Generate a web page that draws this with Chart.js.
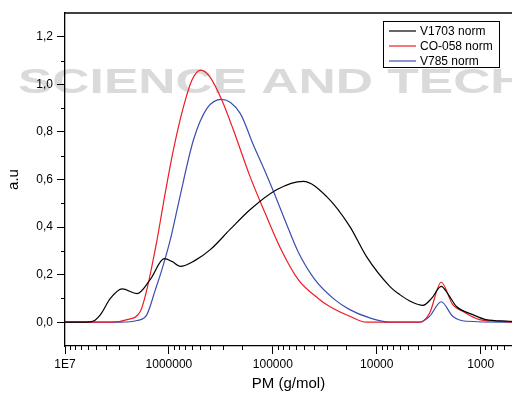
<!DOCTYPE html>
<html>
<head>
<meta charset="utf-8">
<script src="https://cdn.jsdelivr.net/npm/chart.js@4.4.1/dist/chart.umd.min.js"></script>
<style>
  html, body { margin: 0; padding: 0; background: #fff; }
  #wrap { width: 512px; height: 396px; }
</style>
</head>
<body>
<div id="wrap"><canvas id="gpcChart" width="512" height="396"></canvas></div>
<script>
// GPC curves, molar mass (g/mol) vs normalised signal
const seriesNames = ['V1703 norm', 'CO-058 norm', 'V785 norm'];
const seriesColors = ['#000000', '#ee1c24', '#3a4db0'];

const v1703M = [1e7, 6.35e6, 5.32e6, 4.56e6, 3.66e6, 2.82e6, 2.03e6, 1.51e6, 1.11e6, 9.3e5, 7.8e5, 5.6e5, 4.0e5, 2.58e5, 1.66e5, 9.2e4, 5.1e4, 3.05e4, 1.82e4, 1.26e4, 7.5e3, 6.0e3, 4.6e3, 3.6e3, 2.97e3, 2.4e3, 2.04e3, 1.72e3, 1.19e3, 890, 530, 500];
const v1703Y = [0, 0, 0.005, 0.032, 0.10, 0.14, 0.12, 0.18, 0.267, 0.255, 0.235, 0.26, 0.305, 0.39, 0.473, 0.557, 0.592, 0.529, 0.403, 0.277, 0.151, 0.116, 0.085, 0.071, 0.10, 0.151, 0.115, 0.067, 0.032, 0.011, 0.004, 0.003];

const co058M = [1e7, 3.66e6, 2.53e6, 1.88e6, 1.63e6, 1.46e6, 1.30e6, 1.13e6, 9.1e5, 7.24e5, 5.97e5, 4.93e5, 4.02e5, 3.1e5, 2.4e5, 1.66e5, 1.19e5, 8.22e4, 5.7e4, 3.66e4, 2.84e4, 1.82e4, 1.26e4, 3.87e3, 3.1e3, 2.4e3, 1.86e3, 1.49e3, 1.03e3, 660, 500];
const co058Y = [0, 0, 0.011, 0.046, 0.137, 0.235, 0.347, 0.50, 0.72, 0.906, 1.02, 1.06, 1.03, 0.934, 0.809, 0.613, 0.46, 0.30, 0.179, 0.10, 0.066, 0.025, 0.0, 0.0, 0.039, 0.168, 0.074, 0.046, 0.011, 0.004, 0];

const v785M = [1e7, 2.93e6, 2.03e6, 1.63e6, 1.35e6, 1.17e6, 9.7e5, 8.09e5, 5.8e5, 4.29e5, 3.1e5, 2.07e5, 1.54e5, 1.19e5, 9.55e4, 7.66e4, 5.7e4, 3.94e4, 2.54e4, 1.82e4, 1.17e4, 7.5e3, 3.87e3, 3.1e3, 2.4e3, 1.86e3, 1.38e3, 500];
const v785Y = [0, 0, 0.007, 0.032, 0.137, 0.22, 0.347, 0.50, 0.767, 0.90, 0.937, 0.879, 0.745, 0.635, 0.535, 0.43, 0.295, 0.179, 0.095, 0.053, 0.018, 0, 0, 0.025, 0.086, 0.025, 0.004, 0];

const xMajorTicks = [1e7, 1e6, 1e5, 1e4, 1e3];
const yMajorTicks = [0, 0.2, 0.4, 0.6, 0.8, 1.0, 1.2];
const yMinorTicks = [0.1, 0.3, 0.5, 0.7, 0.9, 1.1];

const FONT = '"Liberation Sans", Arial, sans-serif';

function pairs(xs, ys) {
    return xs.map((x, i) => ({x: x, y: ys[i]}));
}

const allSeries = [[v1703M, v1703Y], [co058M, co058Y], [v785M, v785Y]];

// faint watermark behind everything
const watermark = {
    id: 'watermark',
    beforeDraw(chart) {
        const c = chart.ctx;
        c.save();
        c.fillStyle = '#dadada';
        c.font = 'bold 35px ' + FONT;
        c.textBaseline = 'alphabetic';
        const w = c.measureText('SCIENCE AND').width;
        const sx = 355 / w;
        c.translate(18, 93);
        c.scale(sx, 1);
        c.fillText('SCIENCE AND TECHNOLOGY', 0, 0);
        c.restore();
    }
};

// minor ticks, top frame line and boxed legend
const extras = {
    id: 'extras',
    afterDraw(chart) {
        const c = chart.ctx;
        const area = chart.chartArea;
        const xs = chart.scales.x;
        const ys = chart.scales.y;
        c.save();
        c.strokeStyle = '#000';
        c.lineWidth = 1.3;
        c.beginPath();
        c.moveTo(area.left, area.top);
        c.lineTo(area.right, area.top);
        c.stroke();

        c.lineWidth = 1;
        c.beginPath();
        for (let d = 100; d < 1e7; d *= 10) {
            for (let k = 2; k <= 9; k++) {
                const v = d * k;
                if (v < xs.min || v > xs.max) continue;
                const px = Math.round(xs.getPixelForValue(v)) + 0.5;
                c.moveTo(px, area.bottom);
                c.lineTo(px, area.bottom + 4);
            }
        }
        yMinorTicks.forEach(v => {
            const py = Math.round(ys.getPixelForValue(v)) + 0.5;
            c.moveTo(area.left - 4, py);
            c.lineTo(area.left, py);
        });
        c.stroke();

        // legend
        const bx = 383.5, by = 21.5, bw = 116, bh = 46;
        c.fillStyle = '#fff';
        c.fillRect(bx, by, bw, bh);
        c.strokeStyle = '#000';
        c.lineWidth = 1;
        c.strokeRect(bx, by, bw, bh);
        c.font = '12px ' + FONT;
        c.textBaseline = 'middle';
        chart.data.datasets.forEach((ds, i) => {
            const yy = 31 + i * 15;
            c.strokeStyle = ds.borderColor;
            c.lineWidth = 1.2;
            c.beginPath();
            c.moveTo(389, yy);
            c.lineTo(416, yy);
            c.stroke();
            c.fillStyle = '#000';
            c.fillText(ds.label, 420, yy + 0.5);
        });
        c.restore();
    }
};

var ctx = document.getElementById('gpcChart');
new Chart(ctx, {
    type: 'scatter',
    data: {
        datasets: allSeries.map((s, i) => ({
            label: seriesNames[i],
            data: pairs(s[0], s[1]),
            showLine: true,
            borderColor: seriesColors[i],
            backgroundColor: seriesColors[i],
            borderWidth: 1.2,
            pointRadius: 0,
            cubicInterpolationMode: 'monotone'
        }))
    },
    options: {
        responsive: false,
        animation: false,
        devicePixelRatio: 1,
        layout: {padding: {left: 0, right: 0, top: 13, bottom: 0}},
        plugins: {
            legend: {display: false},
            tooltip: {enabled: false}
        },
        scales: {
            x: {
                type: 'logarithmic',
                reverse: true,
                min: 500,
                max: 1e7,
                afterBuildTicks: (scale) => { scale.ticks = xMajorTicks.map(v => ({value: v})); },
                afterFit: (scale) => { scale.height = 50; },
                border: {display: true, color: '#000', width: 1.3},
                grid: {drawOnChartArea: false, color: '#000', tickLength: 8, tickWidth: 1},
                ticks: {
                    color: '#000',
                    font: {family: FONT, size: 12},
                    padding: 3,
                    maxRotation: 0,
                    autoSkip: false,
                    callback: (v) => v === 1e7 ? '1E7' : String(v)
                },
                title: {
                    display: true,
                    text: 'PM (g/mol)',
                    color: '#000',
                    font: {family: FONT, size: 15},
                    padding: {top: 0, bottom: 3}
                }
            },
            y: {
                min: -0.1,
                max: 1.3,
                afterBuildTicks: (scale) => { scale.ticks = yMajorTicks.map(v => ({value: v})); },
                afterFit: (scale) => { scale.width = 65; },
                border: {display: true, color: '#000', width: 1.3},
                grid: {drawOnChartArea: false, color: '#000', tickLength: 8, tickWidth: 1},
                ticks: {
                    color: '#000',
                    font: {family: FONT, size: 12},
                    padding: 4,
                    callback: (v) => v.toFixed(1).replace('.', ',')
                },
                title: {
                    display: true,
                    text: 'a.u',
                    color: '#000',
                    font: {family: FONT, size: 15},
                    padding: {top: 5, bottom: 0}
                }
            }
        }
    },
    plugins: [watermark, extras]
});
</script>
</body>
</html>
